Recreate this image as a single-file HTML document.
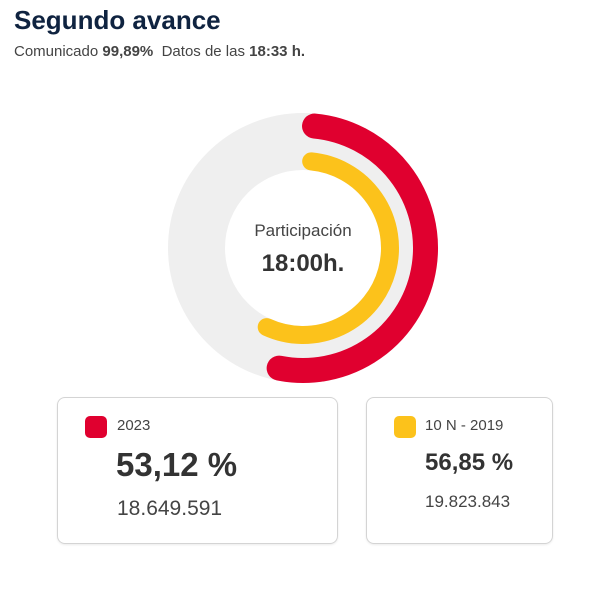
<!DOCTYPE html>
<html><head><meta charset="utf-8">
<style>
body{margin:0;width:600px;height:596px;background:#fff;font-family:"Liberation Sans",sans-serif;position:relative;overflow:hidden}
.t{position:absolute;white-space:nowrap}
.card{position:absolute;border:1px solid #d4d4d4;border-radius:8px;box-sizing:border-box;box-shadow:0 1px 2px rgba(0,0,0,.08)}
.sw{position:absolute;width:22px;height:22px;border-radius:5px}
</style></head><body>
<div class="t" style="left:14px;top:5px;font-size:26px;font-weight:bold;color:#0f2340">Segundo avance</div>
<div class="t" style="left:14px;top:43px;font-size:15px;color:#444">Comunicado <b>99,89%</b>&nbsp; Datos de las <b>18:33 h.</b></div>
<svg id="chart" style="position:absolute;left:0;top:0" width="600" height="400"></svg>
<div class="t" style="left:203px;top:221px;width:200px;text-align:center;font-size:17px;color:#444">Participación</div>
<div class="t" style="left:203px;top:250px;width:200px;text-align:center;font-size:24px;font-weight:bold;color:#333">18:00h.</div>

<div class="card" style="left:57px;top:397px;width:281px;height:147px">
 <div class="sw" style="left:27px;top:18px;background:#e0002f"></div>
 <div class="t" style="left:59px;top:19px;font-size:15px;color:#444">2023</div>
 <div class="t" style="left:58px;top:48px;font-size:33px;font-weight:bold;color:#333">53,12 %</div>
 <div class="t" style="left:59px;top:99px;font-size:21px;color:#444">18.649.591</div>
</div>
<div class="card" style="left:366px;top:397px;width:187px;height:147px">
 <div class="sw" style="left:27px;top:18px;background:#fcc21b"></div>
 <div class="t" style="left:58px;top:19px;font-size:15px;color:#444">10 N - 2019</div>
 <div class="t" style="left:58px;top:51px;font-size:24px;font-weight:bold;color:#333">56,85 %</div>
 <div class="t" style="left:58px;top:94px;font-size:17px;color:#444">19.823.843</div>
</div>
<script>
const series=["2023","10 N - 2019"];
const values=[53.12,56.85];
const radii=[122.5,87];
const widths=[25,18];
const colors=["#e0002f","#fcc21b"];
const cx=303,cy=248;
const svg=document.getElementById('chart');
const NS='http://www.w3.org/2000/svg';
function ang(v){return v/100*2*Math.PI;}
function pt(r,a){return [cx+r*Math.sin(a),cy-r*Math.cos(a)];}
const bg=document.createElementNS(NS,'circle');


bg.setAttribute('cx',cx);bg.setAttribute('cy',cy);bg.setAttribute('r',106.5);
bg.setAttribute('fill','none');bg.setAttribute('stroke','#efefef');bg.setAttribute('stroke-width',57);
svg.appendChild(bg);
values.forEach((v,i)=>{
 const r=radii[i],a0=ang(1.5),a1=ang(v);
 const p0=pt(r,a0),p1=pt(r,a1);
 const large=(a1-a0)>Math.PI?1:0;
 const p=document.createElementNS(NS,'path');
 
 
 p.setAttribute('d',`M${p0[0]},${p0[1]} A${r},${r} 0 ${large} 1 ${p1[0]},${p1[1]}`);
 p.setAttribute('fill','none');p.setAttribute('stroke',colors[i]);
 p.setAttribute('stroke-width',widths[i]);p.setAttribute('stroke-linecap','round');
 svg.appendChild(p);
});
</script>
</body></html>
